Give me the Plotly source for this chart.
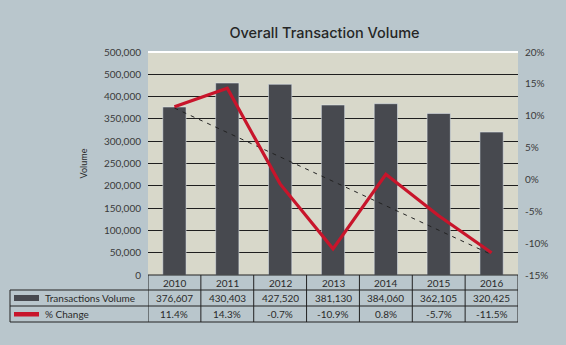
import plotly.graph_objects as go

years = ["2010", "2011", "2012", "2013", "2014", "2015", "2016"]
volume = [376607, 430403, 427520, 381130, 384060, 362105, 320425]
volume_text = ["376,607", "430,403", "427,520", "381,130", "384,060", "362,105", "320,425"]
pct_change = [11.4, 14.3, -0.7, -10.9, 0.8, -5.7, -11.5]
pct_text = ["11.4%", "14.3%", "-0.7%", "-10.9%", "0.8%", "-5.7%", "-11.5%"]
trend_years = ["2010", "2016"]
trend_pct = [11.2, -11.8]
left_tickvals = [0, 50000, 100000, 150000, 200000, 250000, 300000, 350000, 400000, 450000, 500000]
left_ticktext = ["0", "50,000", "100,000", "150,000", "200,000", "250,000", "300,000",
                 "350,000", "400,000", "500,000", "500,000"]
right_tickvals = [-15, -10, -5, 0, 5, 10, 15, 20]
right_ticktext = ["-15%", "-10%", "-5%", "0%", "5%", "10%", "15%", "20%"]

BG = "#b9c6cc"
PLOT_BG = "#d8d8ca"
BAR = "#47494f"
RED = "#c8152b"
FONT = "Lato"
TXT = "#2a2a2a"
TICK = "#3a3a3a"

fig = go.Figure()
fig.add_trace(go.Bar(x=years, y=volume, marker_color=BAR, width=0.44, name="Transactions Volume"))
fig.add_trace(go.Scatter(x=trend_years, y=trend_pct, yaxis="y2", mode="lines",
                         line=dict(color="#222222", width=1, dash="4px,5px"), name="trend"))
fig.add_trace(go.Scatter(x=years, y=pct_change, yaxis="y2", mode="lines",
                         line=dict(color=RED, width=3.2), name="% Change"))

# plot-area pixel geometry: left 148, right 518, top 52, bottom 275
L, R, T, B = 148, 518, 52, 275
W, H = R - L, B - T

def py(p):
    return (B - p) / H

def px(p):
    return (p - L) / W

shapes = []
shapes.append(dict(type="line", xref="paper", yref="paper", x0=0, x1=1, y0=1, y1=1,
                   line=dict(color="white", width=2)))
row_edges = [275, 290, 306, 322]
line_style = dict(color="#222222", width=1)
shapes.append(dict(type="line", xref="x", yref="paper", x0=-0.5, x1=6.5,
                   y0=py(row_edges[0]), y1=py(row_edges[0]), line=line_style))
for r in row_edges[1:]:
    shapes.append(dict(type="line", xref="paper", yref="paper", x0=px(10), x1=1.0,
                       y0=py(r), y1=py(r), line=line_style))
for i in range(len(years) + 1):
    shapes.append(dict(type="line", xref="x", yref="paper", x0=i - 0.5, x1=i - 0.5,
                       y0=py(row_edges[0]), y1=py(row_edges[3]), line=line_style))
shapes.append(dict(type="line", xref="paper", yref="paper", x0=px(10), x1=px(10),
                   y0=py(row_edges[1]), y1=py(row_edges[3]), line=line_style))
shapes.append(dict(type="rect", xref="paper", yref="paper", x0=px(14), x1=px(39),
                   y0=py(301), y1=py(295), fillcolor=BAR, line=dict(width=0)))
shapes.append(dict(type="rect", xref="paper", yref="paper", x0=px(14), x1=px(39),
                   y0=py(316.5), y1=py(312), fillcolor=RED, line=dict(width=0)))

annotations = []
fs = 10
def ann(x, y, text, xref="x", xanchor="center"):
    return dict(x=x, y=y, xref=xref, yref="paper", text=text, showarrow=False,
                xanchor=xanchor, yanchor="middle", font=dict(family=FONT, size=fs, color=TXT))

for i, yr in enumerate(years):
    annotations.append(ann(i, py(282.5), yr))
    annotations.append(ann(i, py(298), volume_text[i]))
    annotations.append(ann(i, py(314), pct_text[i]))
annotations.append(ann(px(43), py(298), "Transactions Volume", xref="paper", xanchor="left"))
annotations.append(ann(px(43), py(314), "% Change", xref="paper", xanchor="left"))

fig.update_layout(
    width=566, height=345,
    margin=dict(l=L, r=566 - R, t=T, b=345 - B),
    paper_bgcolor=BG, plot_bgcolor=PLOT_BG,
    showlegend=False,
    title=dict(text="Overall Transaction Volume", x=324.5 / 566, xanchor="center",
               y=1 - 33 / 345, yanchor="middle",
               font=dict(family="Inter", size=14.5, color="#262626", weight=500)),
    xaxis=dict(type="category", range=[-0.5, 6.5], showticklabels=False, showgrid=False,
               zeroline=False, showline=False, ticks=""),
    yaxis=dict(range=[0, 500000], tickvals=left_tickvals, ticktext=left_ticktext,
               showgrid=True, gridcolor="#1e1e1e", gridwidth=1, zeroline=False,
               showline=False, ticks="", ticklabelstandoff=6,
               tickfont=dict(family=FONT, size=10, color=TICK),
               title=dict(text="Volume", font=dict(family=FONT, size=9, color=TXT), standoff=14)),
    yaxis2=dict(range=[-15, 20], overlaying="y", side="right", tickvals=right_tickvals,
                ticktext=right_ticktext, showgrid=False, zeroline=False, showline=False,
                ticks="", ticklabelstandoff=6, tickfont=dict(family=FONT, size=10, color=TICK)),
    shapes=shapes,
    annotations=annotations,
)

fig.write_html("out.html")
